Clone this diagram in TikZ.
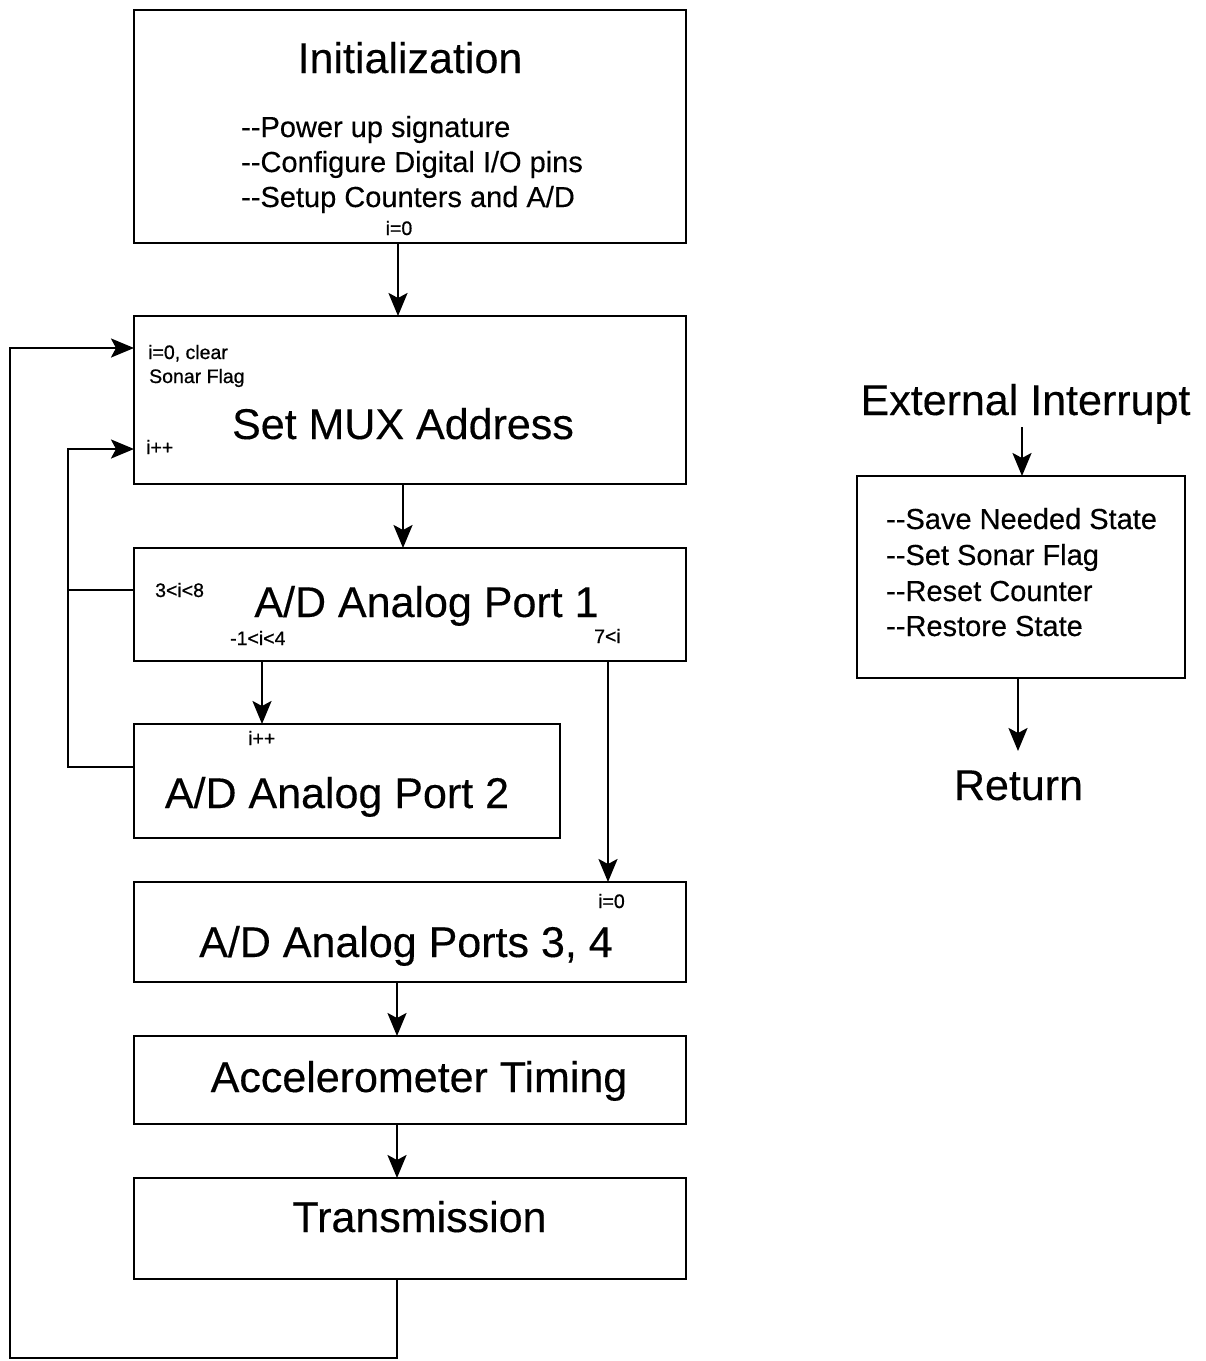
\documentclass[tikz,border=0pt]{standalone}
\usepackage{fontspec}
\setmainfont{Liberation Sans}
% plain hyphens (no dash ligatures), a touch heavier than regular
\newfontfamily\flowfont[FakeBold=0.3]{Liberation Sans}
\newfontfamily\flownote[FakeBold=0.7]{Liberation Sans}
\usetikzlibrary{arrows.meta}
\begin{document}
\begin{tikzpicture}[x=1pt,y=-1pt,
  box/.style={draw,line width=2.6pt,inner sep=0pt,outer sep=0pt},
  wire/.style={line width=2.6pt},
  arr/.style={wire,-{Stealth[length=23pt,width=19pt,inset=5pt]}},
  big/.style={inner sep=0pt,anchor=base,font=\flowfont\fontsize{43}{50}\selectfont},
  mid/.style={inner sep=0pt,anchor=base west,font=\flowfont\fontsize{29}{35}\selectfont},
  tiny/.style={inner sep=0pt,anchor=base west,font=\flownote\fontsize{19.5}{23}\selectfont}]
\useasboundingbox (0,0) rectangle (1206,1361);

% main loop boxes
\node[box,minimum width=552pt,minimum height=233pt] (init) at (410,126.5) {};
\node[box,minimum width=552pt,minimum height=168pt] (mux)  at (410,400) {};
\node[box,minimum width=552pt,minimum height=113pt] (p1)   at (410,604.5) {};
\node[box,minimum width=426pt,minimum height=114pt] (p2)   at (347,781) {};
\node[box,minimum width=552pt,minimum height=100pt] (p34)  at (410,932) {};
\node[box,minimum width=552pt,minimum height=88pt]  (acc)  at (410,1080) {};
\node[box,minimum width=552pt,minimum height=101pt] (tx)   at (410,1228.5) {};

% interrupt routine box
\node[box,minimum width=328pt,minimum height=202pt] (isr)  at (1021,577) {};

% box texts
\node[big] (initT) at (410,73) {Initialization};
\node[mid] (i1) at (241,137) {--Power up signature};
\node[mid] (i2) at (241,172) {--Configure Digital I/O pins};
\node[mid] (i3) at (241,207) {--Setup Counters and A/D};
\node[tiny,anchor=base] (i0) at (399,235) {i=0};

\node[tiny] (m1) at (148,359) {i=0, clear};
\node[tiny] (m2) at (149,383) {Sonar Flag};
\node[big] (muxT) at (403,439) {Set MUX Address};
\node[tiny] (m3) at (146,454) {i++};

\node[tiny] (q1) at (155,597) {3<i<8};
\node[big] (p1T) at (426.5,617) {A/D Analog Port 1};
\node[tiny] (q2) at (230,645) {-1<i<4};
\node[tiny] (q3) at (594,643) {7<i};

\node[tiny] (q4) at (248,745) {i++};
\node[big] (p2T) at (337,808) {A/D Analog Port 2};

\node[tiny] (q5) at (598,908) {i=0};
\node[big] (p34T) at (406,957) {A/D Analog Ports 3, 4};

\node[big] (accT) at (419,1092) {Accelerometer Timing};
\node[big] (txT) at (419.5,1232) {Transmission};

\node[big] (extT) at (1025.5,415) {External Interrupt};
\node[mid] (s1) at (886,529) {--Save Needed State};
\node[mid] (s2) at (886,565) {--Set Sonar Flag};
\node[mid] (s3) at (886,601) {--Reset Counter};
\node[mid] (s4) at (886,636) {--Restore State};
\node[big] (retT) at (1018.5,800) {Return};

% reference points for the connectors
\coordinate (xa) at (398,0);
\coordinate (xb) at (403,0);
\coordinate (xc) at (262,0);
\coordinate (xd) at (608,0);
\coordinate (xe) at (397,0);
\coordinate (xf) at (1022,0);
\coordinate (xg) at (1018,0);
\coordinate (bottom) at (397,1358);
\coordinate (outer) at (10,1358);
\coordinate (inner) at (68,0);
\coordinate (ya) at (0,348);
\coordinate (yb) at (0,449);
\coordinate (yc) at (0,590);
\coordinate (yd) at (0,767);
\coordinate (extEnd) at (1022,427);
\coordinate (retEnd) at (1018,751);

% straight flow
\draw[arr] (init.south -| xa) -- (mux.north -| xa);
\draw[arr] (mux.south -| xb) -- (p1.north -| xb);
\draw[arr] (p1.south -| xc) -- (p2.north -| xc);
\draw[arr] (p1.south -| xd) -- (p34.north -| xd);
\draw[arr] (p34.south -| xe) -- (acc.north -| xe);
\draw[arr] (acc.south -| xe) -- (tx.north -| xe);

% return to the start of the loop
\draw[arr] (tx.south -| xe) -- (bottom) -- (outer) -- (outer |- ya) -- (mux.west |- ya);

% inner loop back to the MUX step
\draw[wire] (p1.west |- yc) -- (inner |- yc);
\draw[arr] (p2.west |- yd) -- (inner |- yd) -- (inner |- yb) -- (mux.west |- yb);

% interrupt routine
\draw[arr] (extEnd) -- (isr.north -| xf);
\draw[arr] (isr.south -| xg) -- (retEnd);
\end{tikzpicture}
\end{document}
